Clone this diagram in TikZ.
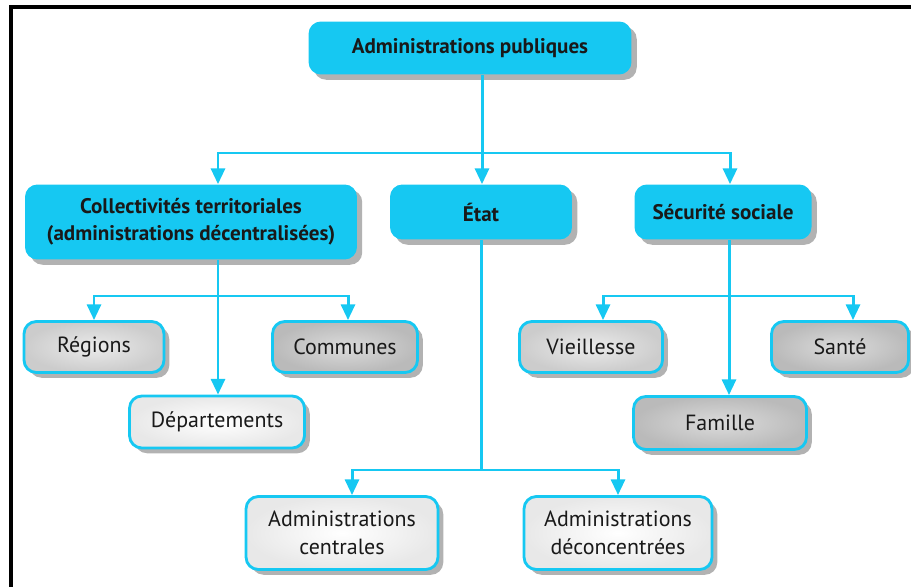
\documentclass[tikz,border=0pt]{standalone}
\usepackage{fontspec}
\setmainfont{PT Sans}
\usetikzlibrary{calc,arrows.meta,positioning,shadows}
\definecolor{cyanbox}{RGB}{22,200,242}
\definecolor{inktext}{RGB}{25,25,25}
\tikzset{
    mainbox/.style={
    rectangle,rounded corners=7pt,fill=cyanbox,draw=none,text=inktext,
    font=\fontsize{12}{15.5}\selectfont\bfseries,align=center,
    drop shadow={shadow xshift=3pt,shadow yshift=-3pt,fill=black!60,opacity=0.5}
    },
    subbox/.style={
    rectangle,rounded corners=7pt,draw=cyanbox,line width=1.6pt,text=inktext,
    font=\fontsize{12.5}{16}\selectfont,align=center,
    drop shadow={shadow xshift=3pt,shadow yshift=-3pt,fill=black!60,opacity=0.5}
    },
    greybox/.style={
    subbox,inner color=black!8,outer color=black!20
    },
    darkbox/.style={
    subbox,inner color=black!14,outer color=black!27
    },
    palebox/.style={
    subbox,inner color=white,outer color=black!9
    },
    link/.style={
    draw=cyanbox,line width=1.7pt,-{Triangle[width=8pt,length=9pt]}
    },
    bar/.style={
    draw=cyanbox,line width=1.7pt
    },
}
\begin{document}
\begin{tikzpicture}[x=0.02cm,y=-0.02cm]
  \useasboundingbox (0,0) rectangle (911,587);
  % frame
  \draw[line width=2.2pt] (11,587) -- (11,7) -- (911,7);

  \node[mainbox,minimum width=6.46cm,minimum height=1.06cm] (pub) at (470,48) {Administrations publiques};
  \node[mainbox,minimum width=6.64cm,minimum height=1.5cm] (coll) at (191,222) {Collectivités territoriales\\(administrations décentralisées)};
  \node[mainbox,minimum width=3.64cm,minimum height=1.1cm] (etat) at (481,212) {État};
  \node[mainbox,minimum width=3.54cm,minimum height=1.1cm] (secu) at (723,212) {Sécurité sociale};

  \node[greybox,minimum width=2.8cm,minimum height=1.02cm] (regions) at (94,347) {Régions};
  \node[darkbox,minimum width=2.9cm,minimum height=1.02cm] (communes) at (345,347) {Communes};
  \node[palebox,minimum width=3.5cm,minimum height=1.04cm] (dep) at (217,422) {Départements};

  \node[greybox,minimum width=2.86cm,minimum height=1.02cm] (vieil) at (591,347) {Vieillesse};
  \node[darkbox,minimum width=2.74cm,minimum height=1.02cm] (sante) at (840,347) {Santé};
  \node[darkbox,minimum width=3.46cm,minimum height=1.06cm] (famille) at (720,423) {Famille};

  \node[palebox,minimum width=3.84cm,minimum height=1.46cm] (centr) at (342,533) {Administrations\\centrales};
  \node[palebox,minimum width=3.76cm,minimum height=1.46cm] (decon) at (618,533) {Administrations\\déconcentrées};

  % junctions
  \coordinate (tbar) at (482,153);
  \coordinate (cbar) at (218,296);
  \coordinate (sbar) at (729,296);
  \coordinate (ebar) at (481,470);

  \draw[bar] (pub.south -| tbar) -- (tbar);
  \draw[link] (tbar) -| (cbar |- coll.north);
  \draw[link] (tbar) -- (etat.north -| tbar);
  \draw[link] (tbar) -| ($(secu.north)+(7,0)$);

  \draw[bar] (coll.south -| cbar) -- (cbar);
  \draw[link] (cbar) -| (regions);
  \draw[link] (cbar) -| ($(communes.north)+(3,0)$);
  \draw[link] (cbar) -- (cbar |- dep.north);

  \draw[bar] (secu.south -| sbar) -- (sbar);
  \draw[link] (sbar) -| ($(vieil.north)+(12,0)$);
  \draw[link] (sbar) -| ($(sante.north)+(13,0)$);
  \draw[link] (sbar) -- (sbar |- famille.north);

  \draw[bar] (etat.south -| ebar) -- (ebar);
  \draw[link] (ebar) -| ($(centr.north)+(10,0)$);
  \draw[link] (ebar) -| (decon);
\end{tikzpicture}
\end{document}
